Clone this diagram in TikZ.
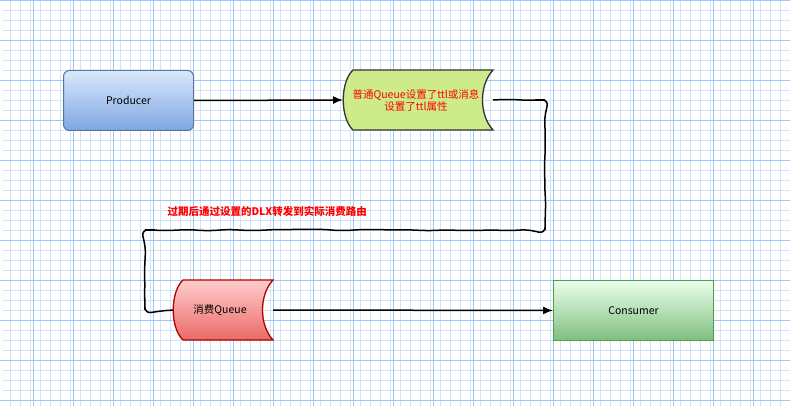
\documentclass[tikz,border=0pt]{standalone}
\usepackage{fontspec}
\newfontfamily\cjk{Noto Sans CJK SC}
\usetikzlibrary{positioning,decorations.pathmorphing,arrows.meta}
\definecolor{gridminor}{HTML}{CFE4FA}
\definecolor{gridmajor}{HTML}{9CC8F2}
\definecolor{ttlfill}{HTML}{CDEB8B}
\definecolor{deadtop}{HTML}{FFCCCC}
\definecolor{deadbottom}{HTML}{EA6B66}
\definecolor{prodtop}{HTML}{DAE8FC}
\definecolor{prodbottom}{HTML}{7EA6E0}
\tikzset{
  box/.style={minimum width=130pt,minimum height=60pt,font=\cjk\fontsize{10.5}{13}\selectfont},
  link/.style={draw=black,line width=1.5pt,-{Latex[length=10pt,width=8pt]}},
  sketch/.style={draw=black,line width=1.5pt,rounded corners=6pt,decorate,decoration={random steps,segment length=12pt,amplitude=0.7pt}}
}
% queue drum lying on its side: left x, top y, right x, bottom y, line, top colour, bottom colour
\newcommand{\queuedrum}[7]{%
  \path[draw=#5,line width=1.3pt,top color=#6,bottom color=#7]
    (#1+10,#2) -- (#3,#2) .. controls (#3-14,#2+15) and (#3-14,#4-15) .. (#3,#4)
    -- (#1+10,#4) .. controls (#1-3,#4-12) and (#1-3,#2+12) .. (#1+10,#2) -- cycle;}
\begin{document}
\begin{tikzpicture}[x=1pt,y=-1pt]
  \useasboundingbox (0,0) rectangle (790,406);
  \fill[white] (0,0) rectangle (790,406);
  \draw[gridminor,line width=0.6pt] (3,0) grid[step=10pt] (790,406);
  \foreach \gx in {33,73,...,790} \draw[gridmajor,line width=0.8pt] (\gx,0) -- (\gx,406);
  \foreach \gy in {0,40,...,406} \draw[gridmajor,line width=0.8pt] (0,\gy) -- (790,\gy);
  % producer / consumer
  \node[box,draw=prodbottom!70!black,line width=1pt,rounded corners=6pt,top color=prodtop,bottom color=prodbottom,anchor=north west] (producer) at (63,70) {Producer};
  \node[box,minimum width=160pt,top color=green!8,bottom color=green!50!black!50!white,anchor=north west,draw=green!45!black!70,line width=1pt] (consumer) at (553,280) {Consumer};
  % queues
  \queuedrum{343}{70}{493}{130}{black!80}{ttlfill}{ttlfill}
  \node[text=red,align=center,font=\cjk\fontsize{10.5}{12}\selectfont] (ttlqueue) at (416,100) {普通Queue设置了ttl或消息\\设置了ttl属性};
  \coordinate (ttlin) at (343,100);
  \coordinate (ttlout) at (493,100);
  \draw[sketch] (ttlout) -- (545,100) -- (545,230) -- (145,230) -- (145,310) -- (175,310);
  \queuedrum{173}{280}{273}{340}{red!70!black}{deadtop}{deadbottom}
  \node[font=\cjk\fontsize{10.5}{13}\selectfont] (deadqueue) at (220,310) {消费Queue};
  \coordinate (deadout) at (273,310);
  \node[text=red,font=\cjk\bfseries\fontsize{10.5}{13}\selectfont,anchor=west] (dlxlabel) at (164,211) {过期后通过设置的DLX转发到实际消费路由};
  \draw[link] (producer.east) -- (ttlin);
  \draw[link] (deadout) -- (consumer.west);
\end{tikzpicture}
\end{document}
